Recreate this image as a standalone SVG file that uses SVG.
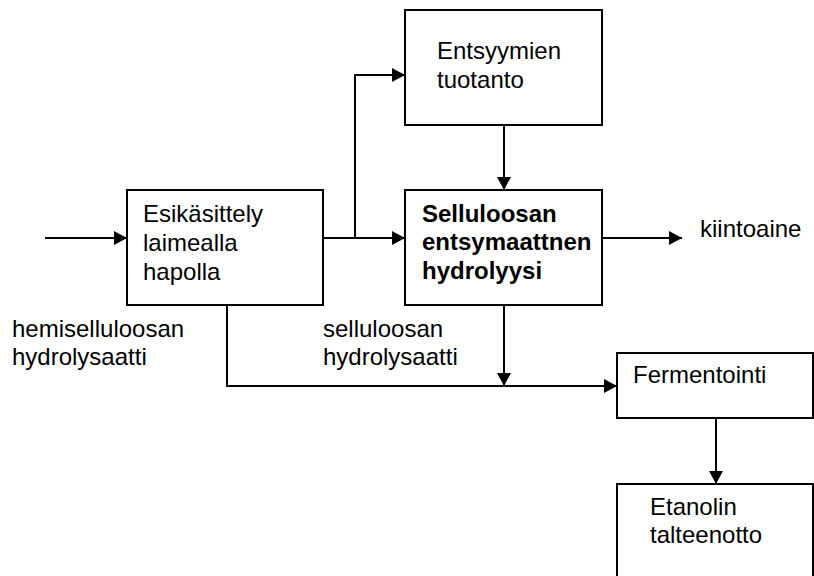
<svg xmlns="http://www.w3.org/2000/svg" width="814" height="576" viewBox="0 0 814 576">
<style>
.box{fill:#fff;stroke:#000;stroke-width:2}
.t{font-family:"Liberation Sans",Arial,sans-serif;font-size:24px;fill:#000}
.b{font-weight:bold}
.c{fill:none;stroke:#000;stroke-width:2}
</style>
<defs>
<marker id="a" viewBox="0 0 13 14" refX="13" refY="7" markerWidth="13" markerHeight="14" markerUnits="userSpaceOnUse" orient="auto">
<path d="M0,0 L13,7 L0,14 Z" fill="#000"/>
</marker>
</defs>
<g id="connectors">
<path class="c" d="M45,238 H127" marker-end="url(#a)"/>
<path class="c" d="M323,238 H405" marker-end="url(#a)"/>
<path class="c" d="M355,238 V75 H405" marker-end="url(#a)"/>
<path class="c" d="M504,125 V190" marker-end="url(#a)"/>
<path class="c" d="M602,238 H682" marker-end="url(#a)"/>
<path class="c" d="M504,305 V386" marker-end="url(#a)"/>
<path class="c" d="M227,305 V386 H617" marker-end="url(#a)"/>
<path class="c" d="M716,418 V484" marker-end="url(#a)"/>
</g>
<g id="esikasittely">
<rect class="box" x="127" y="190" width="196" height="115"/>
<text class="t" x="143" y="222">Esikäsittely</text>
<text class="t" x="143" y="251">laimealla</text>
<text class="t" x="143" y="280">hapolla</text>
</g>
<g id="entsyymien">
<rect class="box" x="405" y="10" width="197" height="115"/>
<text class="t" x="437" y="59">Entsyymien</text>
<text class="t" x="437" y="88">tuotanto</text>
</g>
<g id="hydrolyysi">
<rect class="box" x="405" y="190" width="197" height="115"/>
<text class="t b" x="422" y="222">Selluloosan</text>
<text class="t b" x="422" y="250">entsymaattnen</text>
<text class="t b" x="422" y="279">hydrolyysi</text>
</g>
<g id="fermentointi">
<rect class="box" x="617" y="353" width="196" height="65"/>
<text class="t" x="633" y="383">Fermentointi</text>
</g>
<g id="etanolin">
<rect class="box" x="617" y="484" width="196" height="110"/>
<text class="t" x="650" y="515">Etanolin</text>
<text class="t" x="650" y="543">talteenotto</text>
</g>
<g id="labels">
<text class="t" x="700" y="237">kiintoaine</text>
<text class="t" x="12" y="337">hemiselluloosan</text>
<text class="t" x="12" y="365">hydrolysaatti</text>
<text class="t" x="323" y="337">selluloosan</text>
<text class="t" x="323" y="365">hydrolysaatti</text>
</g>
</svg>
